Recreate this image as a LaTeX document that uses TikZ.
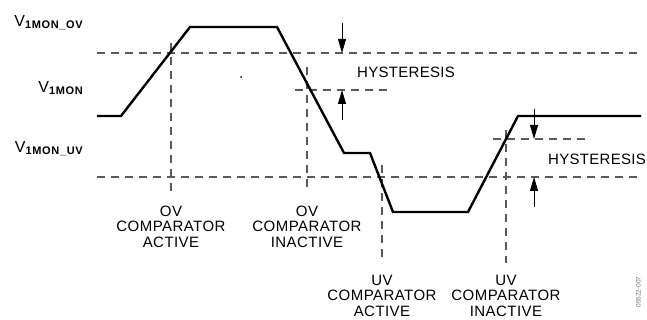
\documentclass[tikz,border=0pt]{standalone}
\usepackage{fontspec}
\setmainfont{Liberation Sans}
\usetikzlibrary{arrows.meta}
\tikzset{
  wave/.style={line width=2.4pt, line join=miter},
  guide/.style={draw=black!65, line width=1.1pt, dash pattern=on 8pt off 6pt},
  hyarrow/.style={line width=0.9pt, -{Triangle[length=14pt,width=8pt]}},
  lbl/.style={inner sep=0pt, align=center, anchor=north, font=\fontsize{15}{15.5}\selectfont\addfontfeatures{LetterSpace=3}},
  hylbl/.style={inner sep=0pt, anchor=base west, font=\fontsize{15}{15}\selectfont\addfontfeatures{LetterSpace=2}},
  vlbl/.style={inner sep=0pt, anchor=base east},
}
\newcommand{\vlab}[1]{{\fontsize{16}{16}\selectfont V}{\fontsize{11}{11}\selectfont\bfseries\addfontfeatures{LetterSpace=6}\raisebox{-2pt}{#1}}}
\begin{document}
\begin{tikzpicture}[x=1pt,y=-1pt]
\useasboundingbox (0,0) rectangle (647,320);
% guide lines
\coordinate (ovL) at (97,53); \coordinate (ovR) at (640,53);
\coordinate (uvL) at (97,177); \coordinate (uvR) at (640,177);
\draw[guide] (ovL) -- (ovR);
\draw[guide] (uvL) -- (uvR);
\coordinate (hovL) at (295,90); \coordinate (hovR) at (388,90);
\draw[guide] (hovL) -- (hovR);
\coordinate (huvL) at (493,139); \coordinate (huvR) at (587,139);
\draw[guide] (huvL) -- (huvR);
% vertical guides
\coordinate (v1t) at (171,43); \coordinate (v1b) at (171,192);
\coordinate (v2t) at (307,67); \coordinate (v2b) at (307,190);
\coordinate (v3t) at (382,165); \coordinate (v3b) at (382,263);
\coordinate (v4t) at (506,130); \coordinate (v4b) at (506,263);
\draw[guide] (v1t) -- (v1b);
\draw[guide] (v2t) -- (v2b);
\draw[guide] (v3t) -- (v3b);
\draw[guide] (v4t) -- (v4b);
% waveform
\draw[wave] (97,116) -- (121,116) -- (190,27) -- (277,27) -- (344,153) -- (370,153)
  -- (393,212) -- (468,212) -- (518,116) -- (641,116);
% hysteresis arrows
\coordinate (a1s) at (342,23); \coordinate (a1e) at (342,53);
\coordinate (a2s) at (342,120); \coordinate (a2e) at (342,90);
\coordinate (a3s) at (534,109); \coordinate (a3e) at (534,139);
\coordinate (a4s) at (534,207); \coordinate (a4e) at (534,177);
\draw[hyarrow] (a1s) -- (a1e);
\draw[hyarrow] (a2s) -- (a2e);
\draw[hyarrow] (a3s) -- (a3e);
\draw[hyarrow] (a4s) -- (a4e);
% stray dot
\fill (241,77) circle (1pt);
% labels
\node[vlbl] (lov) at (83,27) {\vlab{1MON\_OV}};
\node[vlbl] (lmon) at (83,93) {\vlab{1MON}};
\node[vlbl] (luv) at (83,153) {\vlab{1MON\_UV}};
\node[hylbl] (hy1) at (357,78) {HYSTERESIS};
\node[hylbl] (hy2) at (548,165) {HYSTERESIS};
\node[lbl] (t1) at (171,205.5) {OV\\COMPARATOR\\ACTIVE};
\node[lbl] (t2) at (307,205.5) {OV\\COMPARATOR\\INACTIVE};
\node[lbl] (t3) at (382,274.5) {UV\\COMPARATOR\\ACTIVE};
\node[lbl] (t4) at (506,274.5) {UV\\COMPARATOR\\INACTIVE};
\node[inner sep=0pt, rotate=90, anchor=south, text=black!55, font=\fontsize{6.5}{7}\selectfont] (id) at (641,292) {05522-007};
\end{tikzpicture}
\end{document}
